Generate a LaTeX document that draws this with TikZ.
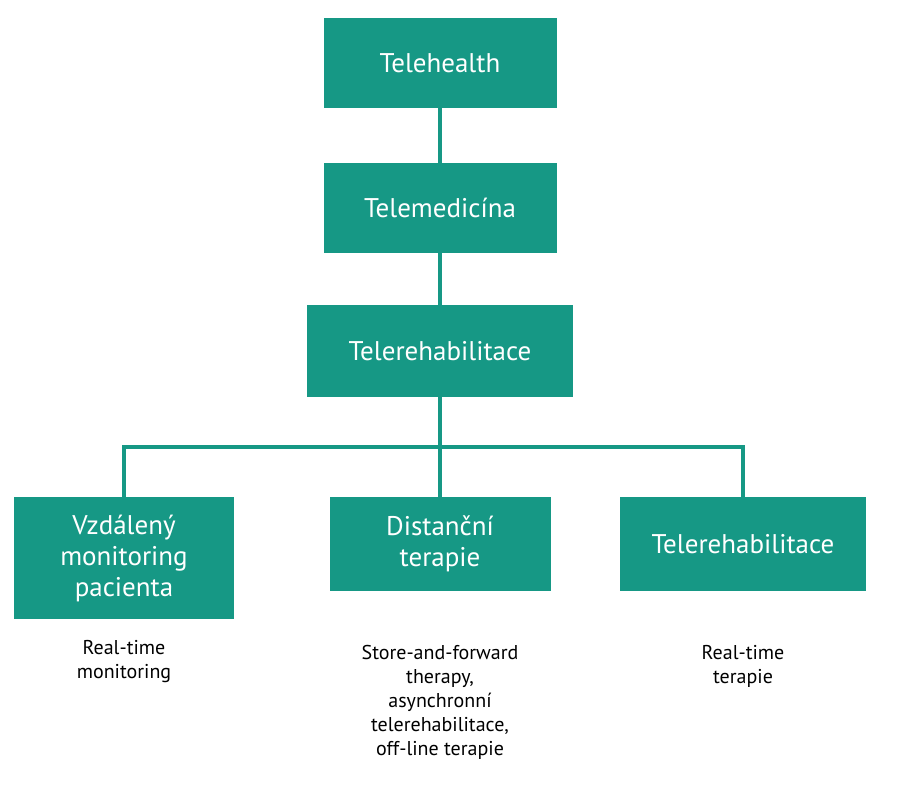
\documentclass[tikz,border=0pt]{standalone}
\usepackage{fontspec}
\setmainfont{PT Sans}
\usetikzlibrary{positioning}
\definecolor{teal}{RGB}{22,152,133}
\tikzset{
  box/.style={fill=teal,text=white,align=center,font=\fontsize{27}{31}\selectfont,
    inner sep=0pt},
  note/.style={align=center,font=\fontsize{20}{24}\selectfont,text=black},
  link/.style={draw=teal,line width=4pt}
}
\begin{document}
\begin{tikzpicture}[x=1pt,y=-1pt]
	\useasboundingbox (0,0) rectangle (901,800);
	% top chain
	\node[box,minimum width=233pt,minimum height=90pt] (health) at (440,63) {Telehealth};
	\node[box,minimum width=233pt,minimum height=90pt] (medicina) at (440,208) {Telemedicína};
	\node[box,minimum width=266pt,minimum height=92pt] (rehab) at (440,351) {Telerehabilitace};
	% bottom row
	\node[box,minimum width=220pt,minimum height=122pt] (monitor) at (124,558) {Vzdálený\\monitoring\\pacienta};
	\node[box,minimum width=221pt,minimum height=94pt] (distance) at (440,544) {Distanční\\terapie};
	\node[box,minimum width=246pt,minimum height=94pt] (rehabtwo) at (743,544) {Telerehabilitace};
	\coordinate (split) at (440,447);
	% connectors
	\draw[link] (health) -- (medicina);
	\draw[link] (medicina) -- (rehab);
	\draw[link] (rehab) -- (split);
	\draw[link] (monitor.north) |- (split) -| (rehabtwo.north);
	\draw[link] (split) -- (distance);
	% notes
	\node[note,below=18pt of monitor] (nmonitor) {Real-time\\monitoring};
	\node[note,anchor=north] (ndistance) at (440,642) {Store-and-forward\\therapy,\\asynchronní\\telerehabilitace,\\off-line terapie};
	\node[note,anchor=north] (nrehab) at (743,642) {Real-time\\terapie};
\end{tikzpicture}
\end{document}
